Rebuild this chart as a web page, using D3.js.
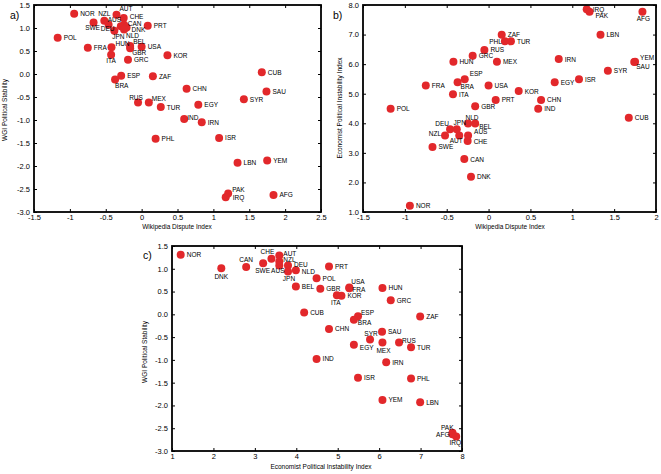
<!DOCTYPE html>
<html>
<head>
<meta charset="utf-8">
<script src="https://cdn.jsdelivr.net/npm/d3@7"></script>
<style>
  body { margin: 0; background: #fff; }
  svg text { font-family: "Liberation Sans", Arial, Helvetica, sans-serif; fill: #000; }
</style>
</head>
<body>
<svg id="fig" width="661" height="474"></svg>
<script>
// country codes, one value per country in each index below
var countries = ["NOR","NZL","AUT","CHE","SWE","AUS","CAN","DEU","DNK","PRT","JPN","NLD","POL","FRA","HUN","BEL","USA","GBR","ITA","GRC","KOR",
  "ESP","ZAF","BRA","CUB","CHN","SAU","RUS","MEX","TUR","EGY","SYR","IND","IRN","PHL","ISR","LBN","YEM","PAK","IRQ","AFG"];

var wikiDispute = [-0.94,-0.52,-0.35,-0.25,-0.67,-0.245,-0.29,-0.46,-0.21,0.085,-0.38,-0.245,-1.17,-0.75,-0.42,-0.16,0.0,-0.16,-0.425,-0.19,0.36,
  -0.285,0.157,-0.37,1.675,0.627,1.74,-0.05,0.10,0.267,0.79,1.425,0.593,0.838,0.195,1.08,1.337,1.75,1.206,1.172,1.838];

var wgiStability = [1.31,1.16,1.29,1.22,1.12,1.07,1.04,1.07,1.01,1.05,0.94,0.97,0.79,0.57,0.58,0.61,0.59,0.56,0.42,0.31,0.41,
  -0.04,-0.05,-0.12,0.04,-0.32,-0.38,-0.62,-0.62,-0.72,-0.67,-0.55,-0.98,-1.05,-1.41,-1.39,-1.93,-1.88,-2.60,-2.68,-2.63];

var economistInstability = [1.21,3.59,3.59,3.40,3.20,3.59,2.79,3.80,2.19,4.79,3.80,3.99,4.49,5.28,6.08,3.99,5.28,4.58,4.98,6.28,5.09,
  5.49,6.99,5.39,4.19,4.79,6.07,6.48,6.08,6.77,5.39,5.78,4.49,6.17,6.77,5.49,6.99,6.08,7.77,7.86,7.77];

// tick labels
var wikiTicksA = [-1.5,-1,-0.5,0,0.5,1,1.5,2,2.5];
var wikiTicksB = [-1.5,-1,-0.5,0,0.5,1,1.5,2];
var wgiTicks = [1.5,1.0,0.5,0,-0.5,-1.0,-1.5,-2.0,-2.5,-3.0];
var econTicksY = [1,2,3,4,5,6,7,8];
var econTicksX = [1,2,3,4,5,6,7,8];

// label placement: [anchor, dx, dy]; anything not listed sits to the right
var RIGHT = ["start", 6, 2.5];
var placeA = {
  NZL: ["middle", 0, -5], AUT: ["start", 3, -4], CHE: ["start", 6, 1.5], SWE: ["middle", -1, 8],
  DEU: ["middle", -1, 6], AUS: ["end", -3, -3], CAN: ["start", 7, 0], DNK: ["start", 5, 4.5],
  JPN: ["middle", 4, 8], NLD: ["start", 2, 9], HUN: ["start", 4, -1], BEL: ["start", 3, -2],
  GBR: ["start", 2, 7], ITA: ["middle", 0, 8], BRA: ["start", 0, 8], RUS: ["middle", -2, -3],
  MEX: ["start", 3, -2], IND: ["start", 3, 0.5], PAK: ["start", 4, -2], IRQ: ["start", 7, 3]
};
var placeB = {
  ESP: ["start", 5, -3], BRA: ["start", 3, 7], NLD: ["middle", 4, -4], BEL: ["start", 4, 5],
  DEU: ["end", -1, -3.5], JPN: ["middle", 3, -4], NZL: ["end", -4, 1], AUT: ["middle", -3, 8],
  AUS: ["start", 6, -1], PHL: ["end", -3, 2.5], AFG: ["middle", 1, 9], YEM: ["start", 5, -2],
  SAU: ["start", 2, 7], PAK: ["start", 6, 6]
};
var placeC = {
  DNK: ["middle", 0, 10.5], CAN: ["middle", 0, -5], CHE: ["middle", -4, -5], SWE: ["middle", -0.5, 10],
  AUS: ["middle", -1.5, 7], AUT: ["start", 4, 0], NZL: ["start", 4, 0.5], DEU: ["start", 6, 1.5],
  NLD: ["start", 6, 3.5], JPN: ["middle", 1, 9], USA: ["start", 2, -3], FRA: ["start", 3, 4],
  ITA: ["middle", -1, 10], ESP: ["start", 3, -1], BRA: ["start", 4, 5], SYR: ["middle", 1, -3],
  EGY: ["start", 6, 5.5], MEX: ["middle", 1, 10], RUS: ["start", 3, 0], PAK: ["end", 1, -3],
  AFG: ["end", -3, 3], IRQ: ["middle", -1, 9]
};

var dotColor = "#e2282b";
var fmt1 = function(d) { return d.toFixed(1); };

var panels = [
  { tag: "a)", xs: wikiDispute, ys: wgiStability, xDom: [-1.5, 2.5], yDom: [-3, 1.5],
    left: 34, right: 321, top: 5, bottom: 212, xTicks: wikiTicksA, yTicks: wgiTicks,
    xFmt: String, yFmt: fmt1, xTitle: "Wikipedia Dispute Index", yTitle: "WGI Political Stability",
    tagX: 10, tagY: 19, xTitleX: 177, xTitleY: 229, yTitleX: 7, yTitleY: 110, place: placeA },
  { tag: "b)", xs: wikiDispute, ys: economistInstability, xDom: [-1.5, 2], yDom: [1, 8],
    left: 363, right: 656, top: 5, bottom: 212, xTicks: wikiTicksB, yTicks: econTicksY,
    xFmt: String, yFmt: fmt1, xTitle: "Wikipedia Dispute Index", yTitle: "Economist Political Instability Index",
    tagX: 333, tagY: 19, xTitleX: 510, xTitleY: 229, yTitleX: 342, yTitleY: 108, place: placeB },
  { tag: "c)", xs: economistInstability, ys: wgiStability, xDom: [1, 8], yDom: [-3, 1.5],
    left: 172, right: 462, top: 246, bottom: 451, xTicks: econTicksX, yTicks: wgiTicks,
    xFmt: String, yFmt: fmt1, xTitle: "Economist Political Instability Index", yTitle: "WGI Political Stability",
    tagX: 143, tagY: 259, xTitleX: 321, xTitleY: 469, yTitleX: 147, yTitleY: 352, place: placeC }
];

var svg = d3.select("#fig");

panels.forEach(function(p) {
  var g = svg.append("g");
  var x = d3.scaleLinear().domain(p.xDom).range([p.left, p.right]);
  var y = d3.scaleLinear().domain(p.yDom).range([p.bottom, p.top]);

  // inward ticks on all four sides, labels only bottom/left
  var axes = [
    [d3.axisBottom(x).tickValues(p.xTicks).tickFormat(p.xFmt).tickPadding(3), "translate(0," + p.bottom + ")"],
    [d3.axisTop(x).tickValues(p.xTicks).tickFormat(""), "translate(0," + p.top + ")"],
    [d3.axisLeft(y).tickValues(p.yTicks).tickFormat(p.yFmt).tickPadding(4), "translate(" + p.left + ",0)"],
    [d3.axisRight(y).tickValues(p.yTicks).tickFormat(""), "translate(" + p.right + ",0)"]
  ];
  axes.forEach(function(a) {
    g.append("g")
      .attr("transform", a[1])
      .call(a[0].tickSize(-3).tickSizeOuter(0))
      .attr("font-size", 7.5)
      .call(function(s) { s.select(".domain").remove(); })
      .selectAll(".tick line").attr("stroke-width", 1);
  });

  var pts = countries.map(function(c, i) { return { code: c, x: p.xs[i], y: p.ys[i] }; });

  g.selectAll("circle")
    .data(pts)
    .enter()
    .append("circle")
    .attr("cx", d => x(d.x))
    .attr("cy", d => y(d.y))
    .attr("r", 4)
    .attr("fill", dotColor);

  g.selectAll("text.lbl")
    .data(pts)
    .enter()
    .append("text")
    .attr("class", "lbl")
    .attr("font-size", 6.5)
    .attr("text-anchor", d => (p.place[d.code] || RIGHT)[0])
    .attr("x", d => x(d.x) + (p.place[d.code] || RIGHT)[1])
    .attr("y", d => y(d.y) + (p.place[d.code] || RIGHT)[2])
    .text(d => d.code);

  // frame
  g.append("rect")
    .attr("x", p.left).attr("y", p.top)
    .attr("width", p.right - p.left).attr("height", p.bottom - p.top)
    .attr("fill", "none").attr("stroke", "#000").attr("stroke-width", 1.8);

  g.append("text").attr("x", p.tagX).attr("y", p.tagY)
    .attr("font-size", 10.5).text(p.tag);

  g.append("text").attr("x", p.xTitleX).attr("y", p.xTitleY)
    .attr("text-anchor", "middle").attr("font-size", 6.5).text(p.xTitle);

  g.append("text")
    .attr("transform", "translate(" + p.yTitleX + "," + p.yTitleY + ") rotate(-90)")
    .attr("text-anchor", "middle").attr("font-size", 6.5).text(p.yTitle);
});
</script>
</body>
</html>
